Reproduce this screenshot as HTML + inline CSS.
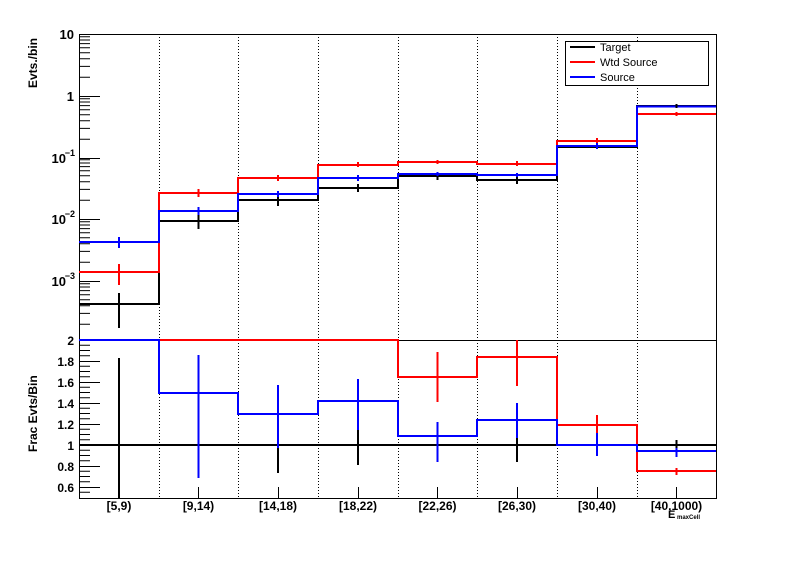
<!DOCTYPE html>
<html><head><meta charset="utf-8"><style>html,body{margin:0;padding:0;background:#fff}svg{display:block}text{font-family:"Liberation Sans",sans-serif;font-weight:bold;fill:#000}</style></head>
<body>
<svg width="796" height="572" viewBox="0 0 796 572" xmlns="http://www.w3.org/2000/svg">
<rect width="796" height="572" fill="#fff"/>
<g stroke="#000" stroke-width="1" stroke-dasharray="1,2">
<line x1="159.5" y1="34" x2="159.5" y2="498"/><line x1="238.5" y1="34" x2="238.5" y2="498"/>
<line x1="318.5" y1="34" x2="318.5" y2="498"/><line x1="398.5" y1="34" x2="398.5" y2="498"/>
<line x1="477.5" y1="34" x2="477.5" y2="498"/><line x1="557.5" y1="34" x2="557.5" y2="498"/>
<line x1="637.5" y1="34" x2="637.5" y2="498"/>
</g>
<rect x="79.5" y="34.5" width="637" height="306" fill="none" stroke="#000" stroke-width="1"/>
<rect x="79.5" y="340.5" width="637" height="158" fill="none" stroke="#000" stroke-width="1"/>
<path stroke="#000" stroke-width="1" fill="none" d="
M79,34.5H100 M79,96.5H100 M79,158.5H100 M79,219.5H100 M79,281.5H100
M79,77.3H90 M79,66.4H90 M79,58.7H90 M79,52.7H90 M79,47.8H90 M79,43.6H90 M79,40H90 M79,36.8H90
M79,139.3H90 M79,128.4H90 M79,120.7H90 M79,114.7H90 M79,109.8H90 M79,105.6H90 M79,102H90 M79,98.8H90
M79,200.3H90 M79,189.4H90 M79,181.7H90 M79,175.7H90 M79,170.8H90 M79,166.6H90 M79,163H90 M79,159.8H90
M79,262.3H90 M79,251.4H90 M79,243.7H90 M79,237.7H90 M79,232.8H90 M79,228.6H90 M79,225H90 M79,221.8H90
M79,324.3H90 M79,313.4H90 M79,305.7H90 M79,299.7H90 M79,294.8H90 M79,290.6H90 M79,287H90 M79,283.8H90
M79,340.5H100 M79,345.25H90 M79,350.5H90 M79,355.75H90 M79,361.5H100 M79,366.25H90 M79,371.5H90 M79,376.75H90
M79,382.5H100 M79,387.25H90 M79,392.5H90 M79,397.75H90 M79,403.5H100 M79,408.25H90 M79,413.5H90 M79,418.75H90
M79,424.5H100 M79,429.25H90 M79,434.5H90 M79,439.75H90 M79,445.5H100 M79,450.25H90 M79,455.5H90 M79,460.75H90
M79,466.5H100 M79,471.25H90 M79,476.5H90 M79,481.75H90 M79,487.5H100 M79,492.25H90
M119.5,498V487 M198.5,498V487 M278.5,498V487 M358.5,498V487 M437.5,498V487 M517.5,498V487 M597.5,498V487 M676.5,498V487"/>
<g font-size="13" text-anchor="end">
<text x="74" y="39">10</text><text x="74" y="101">1</text>
<text x="66" y="163">10</text><text x="75" y="156" font-size="9">−1</text>
<text x="66" y="224">10</text><text x="75" y="217" font-size="9">−2</text>
<text x="66" y="286">10</text><text x="75" y="279" font-size="9">−3</text>
</g>
<g font-size="12" text-anchor="end">
<text x="74" y="345">2</text><text x="74" y="366">1.8</text><text x="74" y="387">1.6</text><text x="74" y="408">1.4</text><text x="74" y="429">1.2</text><text x="74" y="450">1</text><text x="74" y="471">0.8</text><text x="74" y="492">0.6</text>
</g>
<text transform="translate(37,88) rotate(-90)" font-size="12" text-anchor="start">Evts./bin</text>
<text transform="translate(37,452) rotate(-90)" font-size="12" text-anchor="start">Frac Evts/Bin</text>
<g font-size="12" text-anchor="middle">
<text x="119" y="510">[5,9)</text><text x="198.5" y="510">[9,14)</text><text x="278" y="510">[14,18)</text><text x="358" y="510">[18,22)</text><text x="437.5" y="510">[22,26)</text><text x="517" y="510">[26,30)</text><text x="597" y="510">[30,40)</text><text x="676.5" y="510">[40,1000)</text>
</g>
<text x="668" y="518" font-size="11">E</text><text x="677" y="519" font-size="6" fill="#555">maxCell</text>
<g fill="none" stroke-width="2">
<path stroke="#000" d="M79,304 H159 V221 H238 V200 H318 V188 H398 V176 H477 V180 H557 V147 H637 V106 H716"/>
<path stroke="#f00" d="M79,272 H159 V193 H238 V178 H318 V165 H398 V162 H477 V164 H557 V141 H637 V114 H716"/>
<path stroke="#00f" d="M79,242 H159 V211 H238 V194 H318 V178 H398 V174 H477 V175 H557 V146 H637 V106.5 H716"/>
<path stroke="#000" d="M119,293 V328 M198.5,214 V229 M278,195 V206 M358,184 V192 M437.5,172 V180 M517,176 V184 M676.5,104 V108"/>
<path stroke="#f00" d="M119,264 V285 M198.5,189 V197 M278,175 V181 M358,162 V167 M437.5,160 V164 M517,161 V166 M597,138 V144 M676.5,112 V116"/>
<path stroke="#00f" d="M119,237 V248 M198.5,207 V215 M278,191 V197 M358,175 V181 M437.5,172 V176 M517,173 V177 M597,143 V149"/>
</g>
<g fill="none" stroke-width="2">
<path stroke="#000" d="M79,445 H716"/>
<path stroke="#000" d="M119,358 V498 M198.5,380 V478 M278,385 V473 M358,425 V465 M437.5,423 V462 M517,425 V462 M676.5,440 V453"/>
<path stroke="#f00" d="M159,340 H398 V377 H477 V357 H557 V425 H637 V471 H716"/>
<path stroke="#f00" d="M437.5,352 V402 M517,340 V386 M597,415 V440 M676.5,468 V475"/>
<path stroke="#00f" d="M79,340 H159 V393 H238 V414 H318 V401 H398 V436 H477 V420 H557 V445 H637 V451 H716"/>
<path stroke="#00f" d="M198.5,355 V478 M278,385 V448 M358,379 V430 M437.5,422 V462 M517,403 V438 M597,433 V456 M676.5,448 V457"/>
</g>
<rect x="565.5" y="41.5" width="143" height="44" fill="#fff" stroke="#000" stroke-width="1"/>
<g stroke-width="2"><line x1="570" y1="47" x2="595" y2="47" stroke="#000"/><line x1="570" y1="62" x2="595" y2="62" stroke="#f00"/><line x1="570" y1="77" x2="595" y2="77" stroke="#00f"/></g>
<g font-size="11"><text x="600" y="51" style="font-weight:normal">Target</text><text x="600" y="66" style="font-weight:normal">Wtd Source</text><text x="600" y="81" style="font-weight:normal">Source</text></g>
</svg>
</body></html>
